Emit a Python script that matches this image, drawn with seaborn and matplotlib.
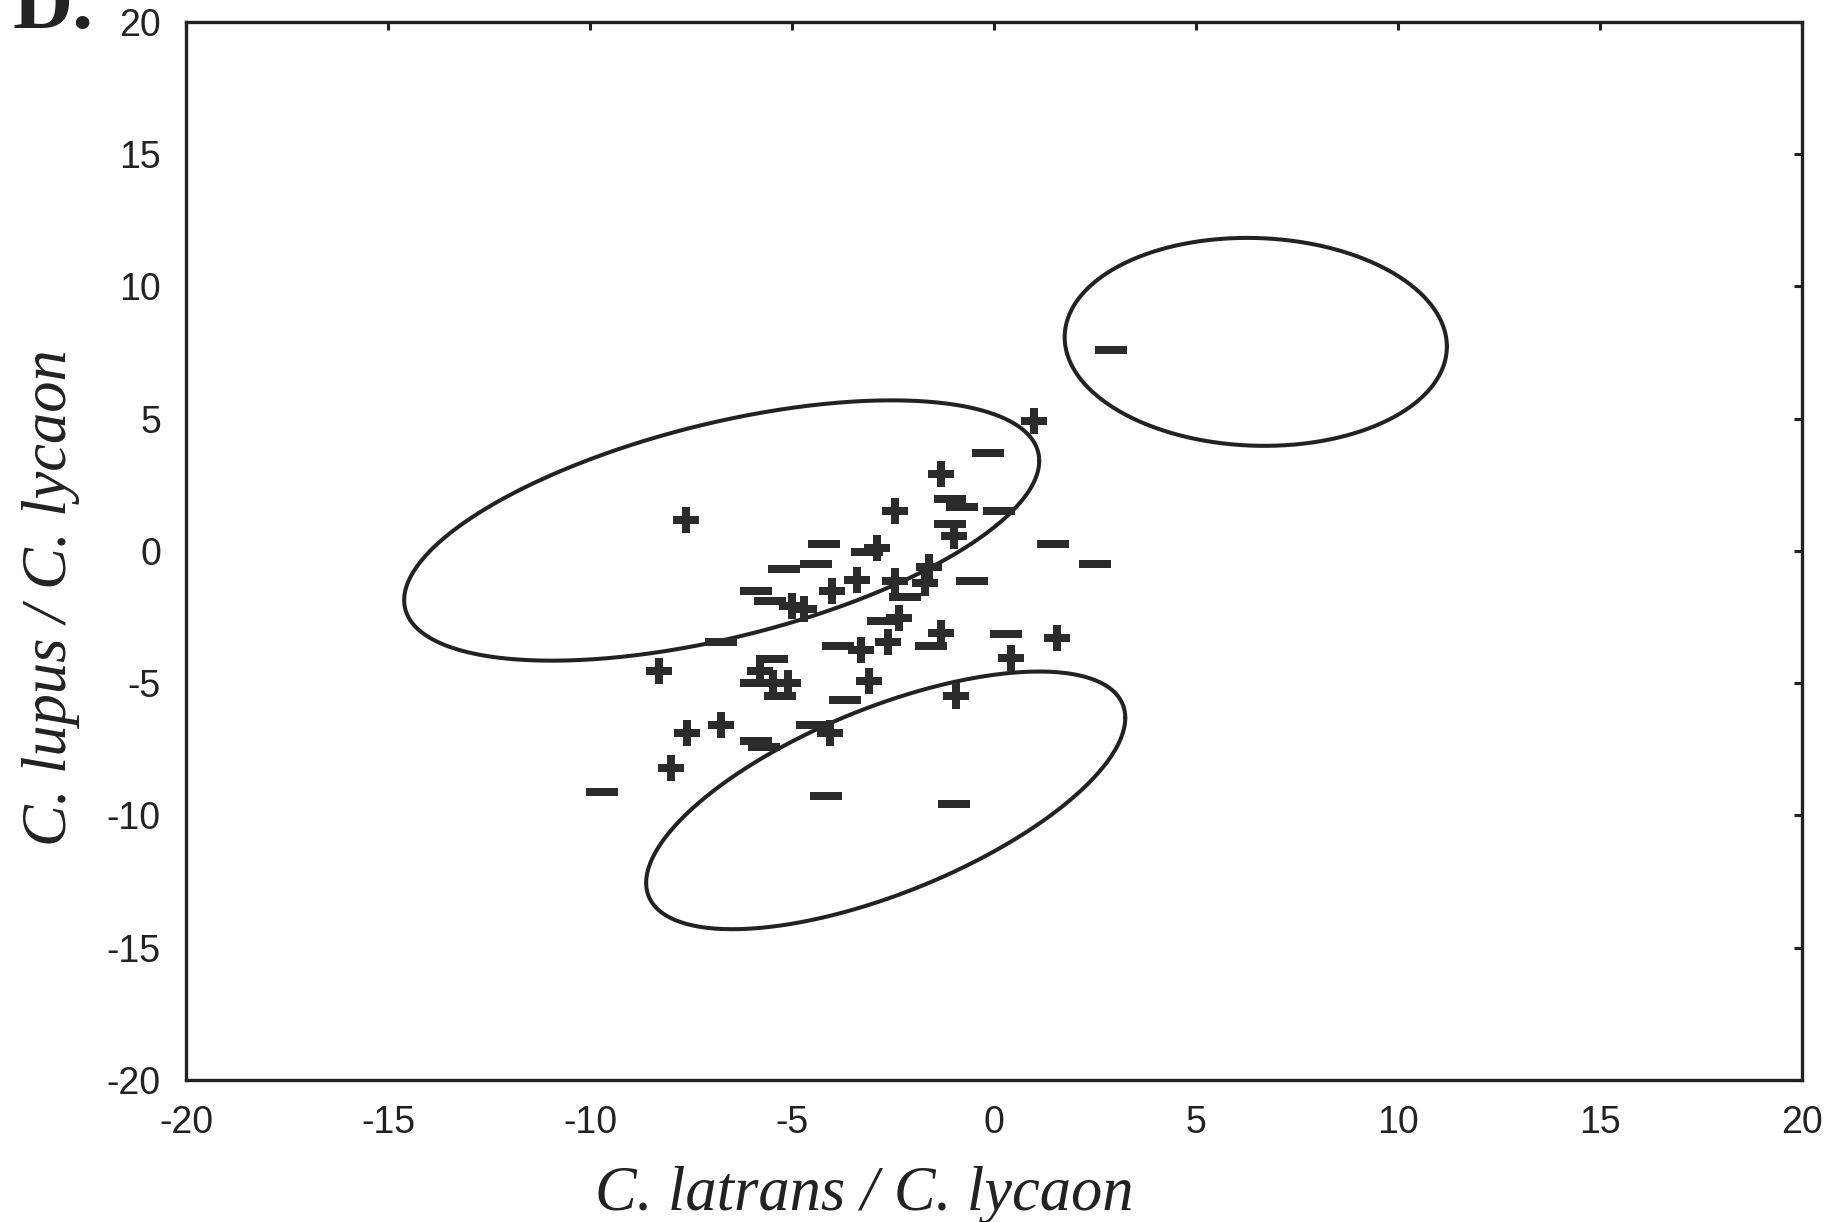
import numpy as np
import matplotlib
matplotlib.use("Agg")
import matplotlib.pyplot as plt
from matplotlib.path import Path
import seaborn as sns

# Dados
plus_x = [-7.63, 0.98, -1.3, -2.45, -1.0, -2.9, -3.4, -4.0, -2.44, -1.7,
          -1.6, -5.0, -4.7, -2.35, -1.3, 1.55, -2.63, -3.3, -8.3, -5.8,
          -5.48, -5.1, -3.1, -0.95, -6.75, -7.6, -4.05, -8.0, 0.43]
plus_y = [1.17, 4.92, 2.9, 1.5, 0.55, 0.1, -1.1, -1.5, -1.13, -1.2,
          -0.6, -2.1, -2.2, -2.55, -3.1, -3.3, -3.45, -3.75, -4.55, -4.55,
          -4.98, -4.98, -4.9, -5.5, -6.6, -6.9, -6.9, -8.2, -4.06]

minus_x = [2.9, -0.15, -1.1, -0.8, 0.12, -1.1, 1.45, 2.5, -4.2, -4.4,
           -5.2, -3.15, -5.9, -5.55, -0.55, -2.2, -2.75, 0.3, -1.55, -6.75,
           -3.85, -5.5, -5.9, -5.3, -3.7, -5.9, -5.7, -4.5, -9.7, -4.15, -1.0]
minus_y = [7.6, 3.7, 1.95, 1.65, 1.5, 1.0, 0.25, -0.5, 0.25, -0.5,
           -0.7, -0.05, -1.5, -1.9, -1.15, -1.75, -2.65, -3.15, -3.6, -3.45,
           -3.6, -4.1, -5.0, -5.5, -5.65, -7.2, -7.4, -6.6, -9.1, -9.25, -9.55]

# Elipses: centro, meia-largura em x, meia-altura em y, correlação
ell_cx = [-6.74, 6.48, -2.68]
ell_cy = [0.77, 7.9, -9.43]
ell_sx = [7.86, 4.73, 5.93]
ell_sy = [4.92, 3.93, 4.87]
ell_rho = [0.535, -0.045, 0.64]

ticks = [-20, -15, -10, -5, 0, 5, 10, 15, 20]

sns.set_style("white")
plt.rcParams["font.family"] = ["Liberation Sans Narrow", "Liberation Sans", "DejaVu Sans"]
plt.rcParams["axes.unicode_minus"] = False

ink = "#222222"
mark = "#2b2b2b"

fig = plt.figure(figsize=(18.27, 12.22), dpi=100)
ax = fig.add_axes([0.1018, 0.1162, 0.8845, 0.866])

# Elipses
t = np.linspace(0, 2 * np.pi, 400)
for cx, cy, sx, sy, r in zip(ell_cx, ell_cy, ell_sx, ell_sy, ell_rho):
    S = np.array([[sx ** 2, r * sx * sy], [r * sx * sy, sy ** 2]])
    A = np.linalg.cholesky(S)
    pts = A @ np.vstack([np.cos(t), np.sin(t)])
    ax.plot(cx + pts[0], cy + pts[1], color=ink, lw=2.9, zorder=2)

# Marcadores (+ e -)
h = 0.34
plus_marker = Path([(-1, -h), (-h, -h), (-h, -1), (h, -1), (h, -h), (1, -h),
                    (1, h), (h, h), (h, 1), (-h, 1), (-h, h), (-1, h), (-1, -h)])
minus_marker = Path([(-1, -0.24), (1, -0.24), (1, 0.24), (-1, 0.24), (-1, -0.24)])

sns.scatterplot(x=plus_x, y=plus_y, marker=plus_marker, s=330, color=mark,
                linewidth=0, ax=ax, zorder=3)
sns.scatterplot(x=minus_x, y=minus_y, marker=minus_marker, s=510, color=mark,
                linewidth=0, ax=ax, zorder=3)

ax.set_xlim(-20, 20)
ax.set_ylim(-20, 20)
ax.set_xticks(ticks)
ax.set_yticks(ticks)
ax.tick_params(direction="in", length=6, width=2.2, color=ink, top=True, right=True,
               labelsize=27, labelcolor=ink, pad=18)
for sp in ax.spines.values():
    sp.set_linewidth(2.4)
    sp.set_color(ink)

serif = ["Liberation Serif", "DejaVu Serif"]
ax.set_xlabel("C. latrans / C. lycaon", fontsize=45, style="italic", family=serif, color=ink)
ax.xaxis.label.set_va("baseline")
ax.xaxis.set_label_coords(0.4196, -0.123)
ax.set_ylabel("C. lupus / C. lycaon", fontsize=45, style="italic", family=serif, color=ink)
ax.yaxis.label.set_va("baseline")
ax.yaxis.set_label_coords(-0.074, 0.4556)

fig.text(12 / 1827, 1 - 28 / 1222, "D.", fontsize=60, fontweight="bold",
         family=serif, color=ink, ha="left", va="baseline")

fig.savefig("out.png", dpi=100, facecolor="white")
